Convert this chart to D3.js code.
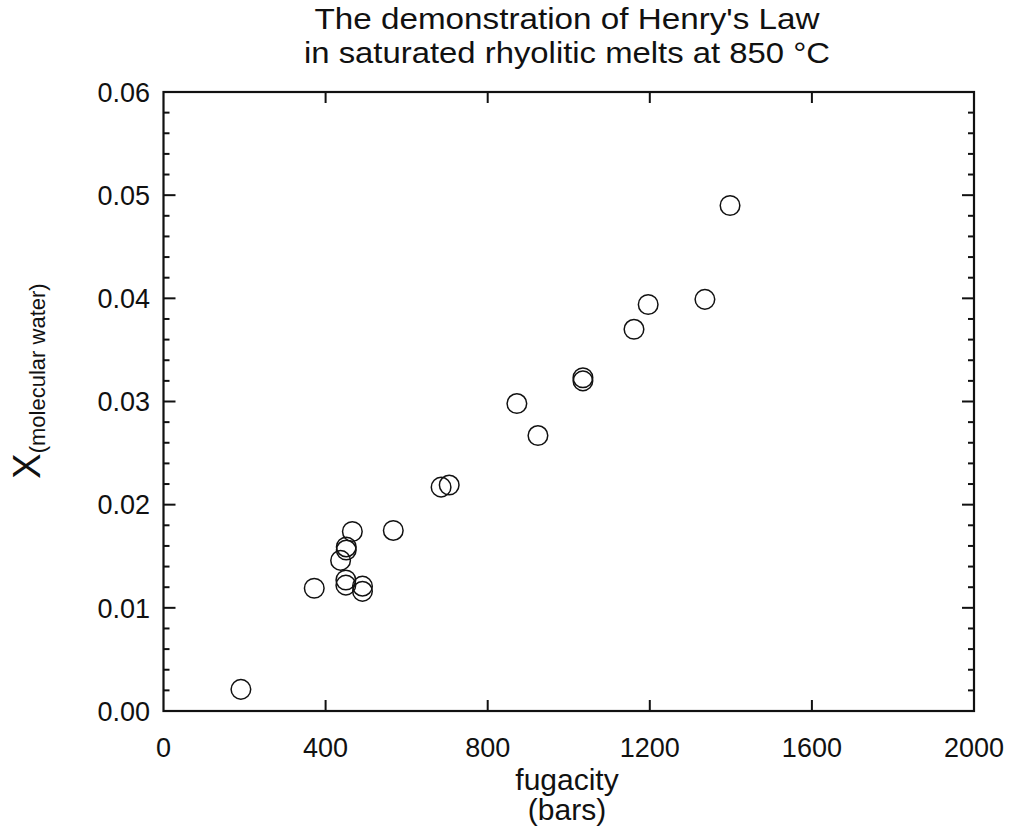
<!DOCTYPE html>
<html><head><meta charset="utf-8">
<script src="https://cdn.jsdelivr.net/npm/d3@7"></script>
<style>body{margin:0;background:#fff}svg text{font-family:"Liberation Sans",Arial,sans-serif;fill:#111}</style>
</head><body><svg id="c" width="1011" height="835"></svg>
<script>
const fugacity = [191, 372, 466, 451, 451, 437, 450, 450, 491, 491, 567, 685, 705, 872, 924, 1035, 1035, 1161, 1196, 1336, 1398];
const xMolecularWater = [0.0021, 0.0119, 0.0174, 0.0159, 0.0156, 0.0146, 0.0127, 0.0122, 0.0121, 0.0116, 0.0175, 0.0217, 0.0219, 0.0298, 0.0267, 0.0323, 0.0320, 0.0370, 0.0394, 0.0399, 0.0490];
const xTicks = [0, 400, 800, 1200, 1600, 2000];
const yTicks = [0, 0.01, 0.02, 0.03, 0.04, 0.05, 0.06];
const yMinorTicks = d3.range(0, 31).map(i => i * 0.002);
const titleLines = ["The demonstration of Henry's Law", "in saturated rhyolitic melts at 850 °C"];

const svg = d3.select("#c");
const L = 163.5, R = 974, T = 92, B = 711;
const x = d3.scaleLinear().domain([0, 2000]).range([L, R]);
const y = d3.scaleLinear().domain([0, 0.06]).range([B, T]);

// ticks
const g = svg.append("g").attr("stroke", "#111").attr("stroke-width", 2);
const minorOnly = yMinorTicks.filter(v => !yTicks.some(t => Math.abs(t - v) < 1e-9));
[[L, 1], [R, -1]].forEach(([px, dir]) => {
  g.selectAll(null).data(minorOnly).join("line")
    .attr("x1", px).attr("x2", px + dir * 6).attr("y1", d => y(d)).attr("y2", d => y(d));
  g.selectAll(null).data(yTicks).join("line")
    .attr("x1", px).attr("x2", px + dir * 12).attr("y1", d => y(d)).attr("y2", d => y(d));
});
[[B, -1], [T, 1]].forEach(([py, dir]) => {
  g.selectAll(null).data(xTicks.slice(1, -1)).join("line")
    .attr("y1", py).attr("y2", py + dir * 11).attr("x1", d => x(d)).attr("x2", d => x(d));
});
svg.append("rect").attr("x", L).attr("y", T).attr("width", R - L).attr("height", B - T)
  .attr("fill", "none").attr("stroke", "#111").attr("stroke-width", 2.2);

// tick labels
svg.selectAll(null).data(yTicks).join("text")
  .attr("x", 150).attr("y", d => y(d)).attr("dy", "0.36em").attr("text-anchor", "end")
  .attr("font-size", 27).text(d => d3.format(".2f")(d));
svg.selectAll(null).data(xTicks).join("text")
  .attr("x", d => x(d)).attr("y", 757).attr("text-anchor", "middle")
  .attr("font-size", 27).text(d => d);

// points
svg.append("g").selectAll("circle").data(fugacity.map((f, i) => [f, xMolecularWater[i]])).join("circle")
  .attr("cx", d => x(d[0])).attr("cy", d => y(d[1])).attr("r", 9.8)
  .attr("fill", "none").attr("stroke", "#111").attr("stroke-width", 1.5);

// titles
const cx = 567;
const titleWidths = [505, 526];
svg.selectAll(null).data(titleLines).join("text")
  .attr("x", cx).attr("y", (d, i) => 29 + i * 34).attr("text-anchor", "middle")
  .attr("font-size", 30).attr("textLength", (d, i) => titleWidths[i])
  .attr("lengthAdjust", "spacingAndGlyphs").text(d => d);
svg.append("text").attr("x", cx).attr("y", 790).attr("text-anchor", "middle").attr("font-size", 30).text("fugacity");
svg.append("text").attr("x", cx).attr("y", 820).attr("text-anchor", "middle").attr("font-size", 30).text("(bars)");

// y label
const yl = svg.append("text").attr("transform", "translate(40,381) rotate(-90)").attr("text-anchor", "middle");
yl.append("tspan").attr("font-size", 38).text("X");
yl.append("tspan").attr("font-size", 22).attr("dy", 5).text("(molecular water)");
</script></body></html>
